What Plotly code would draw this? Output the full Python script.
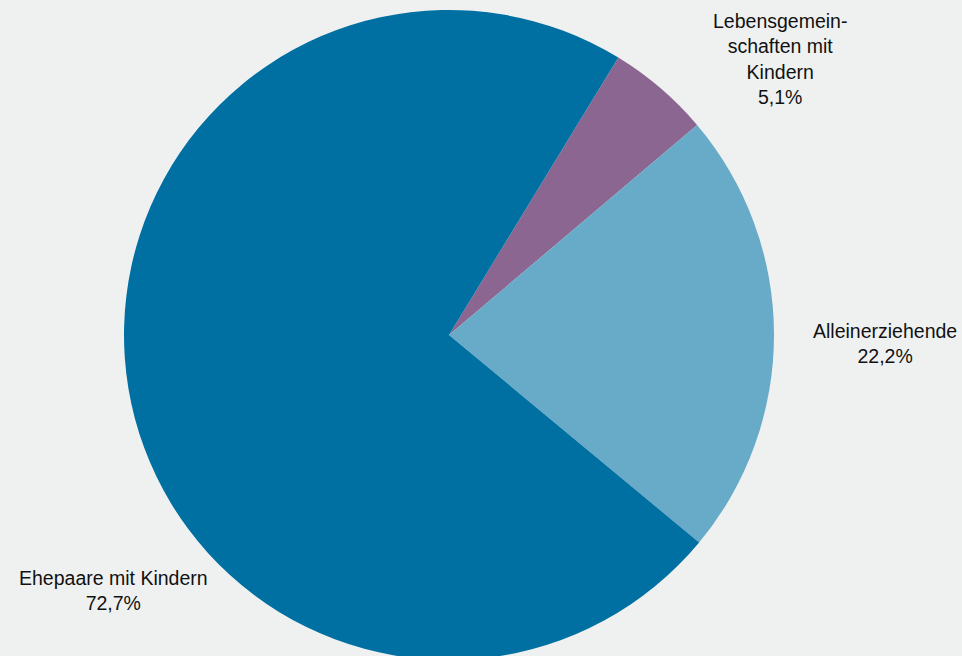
import plotly.graph_objects as go

# Haushaltsformen mit Kindern (Anteile in %)
categories = ["Lebensgemein-<br>schaften mit<br>Kindern", "Alleinerziehende", "Ehepaare mit Kindern"]
shares = [5.1, 22.2, 72.7]
colors = ["#8B6690", "#67ABC8", "#0070A3"]

# The canvas is a little taller than the page so the pie can run off the bottom edge
W, H = 962, 670
cx, cy, r = 449, 335, 325

fig = go.Figure(go.Pie(
    labels=categories,
    values=shares,
    sort=False,
    direction="clockwise",
    rotation=31.4,
    marker=dict(colors=colors, line=dict(width=0)),
    textinfo="none",
    hoverinfo="label+percent",
    domain=dict(x=[(cx - r) / W, (cx + r) / W], y=[(H - cy - r) / H, (H - cy + r) / H]),
    showlegend=False,
))

# Outside labels: category name plus its share
label_pos = [(780, 59), (885, 343), (113, 590)]
for name, val, (px, py) in zip(categories, shares, label_pos):
    fig.add_annotation(
        x=px / W, y=1 - py / H, xref="paper", yref="paper",
        text=f"{name}<br>{val:.1f}%".replace(".", ","),
        showarrow=False, xanchor="center", yanchor="middle", align="center",
        font=dict(family="Liberation Sans, Arial, sans-serif", size=19.5, color="#111111"),
    )

fig.update_layout(
    width=W, height=H,
    margin=dict(l=0, r=0, t=0, b=0),
    paper_bgcolor="#EFF1F1",
    plot_bgcolor="#EFF1F1",
)

fig.write_html(
    "out.html",
    post_script="document.documentElement.style.overflow='hidden';document.body.style.overflow='hidden';document.body.style.margin='0';",
)
